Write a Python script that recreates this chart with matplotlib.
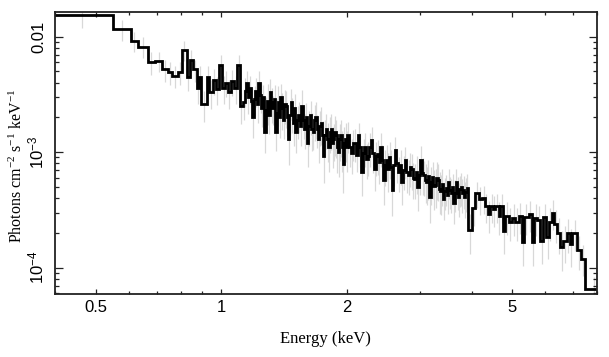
import matplotlib.pyplot as plt
import matplotlib.ticker as mticker
import numpy as np

# unfolded X-ray spectrum
# each band: lower bin edges (keV), flux (photons cm^-2 s^-1 keV^-1), fractional error

soft_edges = [
    0.39, 0.549, 0.607, 0.631, 0.666, 0.693, 0.722, 0.744, 0.760, 0.789,
    0.806, 0.826, 0.841, 0.854, 0.873, 0.884, 0.897, 0.923, 0.937, 0.955,
    0.971, 0.987, 1.007, 1.021, 1.038, 1.056, 1.073, 1.094, 1.110,
]
soft_flux = [
    0.0153, 0.0116, 0.0092, 0.0082, 0.0060, 0.0062, 0.0052, 0.0049, 0.0046, 0.0049,
    0.0077, 0.0045, 0.0063, 0.0052, 0.0036, 0.0045, 0.0026, 0.0045, 0.0033, 0.0042,
    0.0035, 0.0057, 0.0036, 0.0040, 0.0033, 0.0041, 0.0036, 0.0057, 0.0025,
]
soft_err = [
    0.23, 0.21, 0.20, 0.20, 0.22, 0.20, 0.22, 0.22, 0.22, 0.22,
    0.20, 0.25, 0.22, 0.22, 0.28, 0.25, 0.30, 0.25, 0.28, 0.25,
    0.27, 0.22, 0.27, 0.25, 0.28, 0.25, 0.27, 0.22, 0.30,
]

# 1.13 - 1.5 keV
b1_edges = [
    1.128, 1.138, 1.148, 1.158, 1.168, 1.178, 1.188, 1.198, 1.208, 1.218,
    1.228, 1.238, 1.248, 1.258, 1.268, 1.278, 1.288, 1.298, 1.308, 1.318,
    1.328, 1.338, 1.348, 1.358, 1.368, 1.378, 1.388, 1.398, 1.408, 1.418,
    1.428, 1.438, 1.448, 1.458, 1.468, 1.478, 1.488, 1.498,
]
b1_flux = [
    0.0027, 0.0034, 0.0040, 0.0030, 0.0036, 0.0028, 0.0020, 0.0029, 0.0034, 0.0026,
    0.0040, 0.0031, 0.0024, 0.0030, 0.0015, 0.0023, 0.0028, 0.0021, 0.0033, 0.0027,
    0.0024, 0.0029, 0.0015, 0.0022, 0.0027, 0.0020, 0.0030, 0.0024, 0.0019, 0.0026,
    0.0025, 0.0020, 0.0013, 0.0021, 0.0027, 0.0022, 0.0018, 0.0024,
]
b1_err = [
    0.30, 0.28, 0.26, 0.29, 0.27, 0.30, 0.34, 0.29, 0.28, 0.31,
    0.26, 0.29, 0.31, 0.28, 0.35, 0.30, 0.38, 0.32, 0.31, 0.34,
    0.29, 0.31, 0.32, 0.30, 0.38, 0.33, 0.30, 0.35, 0.31, 0.33,
    0.35, 0.31, 0.40, 0.33, 0.30, 0.34, 0.37, 0.32,
]

# 1.5 - 2 keV
b2_edges = [
    1.508, 1.5205, 1.533, 1.5455, 1.558, 1.5705, 1.583, 1.5955, 1.608, 1.6205,
    1.633, 1.6455, 1.658, 1.6705, 1.683, 1.6955, 1.708, 1.7205, 1.733, 1.7455,
    1.758, 1.7705, 1.783, 1.7955, 1.808, 1.8205, 1.833, 1.8455, 1.858, 1.8705,
    1.883, 1.8955, 1.908, 1.9205, 1.933, 1.9455, 1.958, 1.9705, 1.983, 1.9955,
]
b2_flux = [
    0.0015, 0.0019, 0.0021, 0.0017, 0.0025, 0.0019, 0.0016, 0.0020, 0.0012, 0.0017,
    0.0021, 0.0016, 0.0015, 0.0019, 0.0020, 0.0016, 0.0013, 0.0017, 0.0018, 0.0014,
    0.00093, 0.0014, 0.0016, 0.0013, 0.0011, 0.0015, 0.0016, 0.0012, 0.0013, 0.0015,
    0.0014, 0.0011, 0.0010, 0.0013, 0.0014, 0.0011, 0.00079, 0.0012, 0.0013, 0.0011,
]
b2_err = [
    0.35, 0.32, 0.30, 0.33, 0.37, 0.31, 0.34, 0.32, 0.38, 0.33,
    0.33, 0.36, 0.31, 0.34, 0.35, 0.32, 0.38, 0.33, 0.36, 0.34,
    0.42, 0.35, 0.33, 0.37, 0.39, 0.34, 0.35, 0.39, 0.36, 0.38,
    0.36, 0.40, 0.39, 0.36, 0.35, 0.39, 0.44, 0.37, 0.37, 0.39,
]

# 2 - 2.6 keV
b3_edges = [
    2.008, 2.028, 2.048, 2.068, 2.088, 2.108, 2.128, 2.148, 2.168, 2.188,
    2.208, 2.228, 2.248, 2.268, 2.288, 2.308, 2.328, 2.348, 2.368, 2.388,
    2.408, 2.428, 2.448, 2.468, 2.488, 2.508, 2.528, 2.548, 2.568, 2.588,
]
b3_flux = [
    0.0014, 0.0011, 0.00098, 0.0012, 0.0012, 0.00095, 0.0014, 0.0011, 0.00068, 0.00098,
    0.0011, 0.00088, 0.00092, 0.0011, 0.00127, 0.00098, 0.00072, 0.00093, 0.00096, 0.00082,
    0.0011, 0.00086, 0.00057, 0.00078, 0.00086, 0.00072, 0.00091, 0.00075, 0.00047, 0.00078,
]
b3_err = [
    0.30, 0.32, 0.34, 0.30, 0.31, 0.29, 0.28, 0.32, 0.38, 0.33,
    0.32, 0.34, 0.33, 0.32, 0.29, 0.33, 0.36, 0.33, 0.34, 0.35,
    0.32, 0.34, 0.39, 0.35, 0.34, 0.37, 0.35, 0.38, 0.40, 0.35,
]

# 2.6 - 3.4 keV
b4_edges = [
    2.608, 2.633, 2.658, 2.683, 2.708, 2.733, 2.758, 2.783, 2.808, 2.833,
    2.858, 2.883, 2.908, 2.933, 2.958, 2.983, 3.008, 3.033, 3.058, 3.083,
    3.108, 3.133, 3.158, 3.183, 3.208, 3.233, 3.258, 3.283, 3.308, 3.333,
    3.358, 3.383,
]
b4_flux = [
    0.00105, 0.00080, 0.00068, 0.00078, 0.00055, 0.00070, 0.00085, 0.00067, 0.00064, 0.00074,
    0.00072, 0.00060, 0.00059, 0.00068, 0.00050, 0.00064, 0.00086, 0.00066, 0.00063, 0.00058,
    0.00055, 0.00062, 0.00041, 0.00055, 0.00061, 0.00051, 0.00052, 0.00060, 0.00058, 0.00048,
    0.00046, 0.00053,
]
b4_err = [
    0.28, 0.32, 0.34, 0.33, 0.36, 0.33, 0.31, 0.34, 0.33, 0.32,
    0.35, 0.34, 0.33, 0.36, 0.38, 0.34, 0.31, 0.35, 0.34, 0.37,
    0.36, 0.38, 0.40, 0.36, 0.35, 0.38, 0.37, 0.36, 0.35, 0.39,
    0.38, 0.36,
]

# 3.4 - 3.9 keV
b5_edges = [
    3.408, 3.433, 3.458, 3.483, 3.508, 3.533, 3.558, 3.583, 3.608, 3.633,
    3.658, 3.683, 3.708, 3.733, 3.758, 3.783, 3.808, 3.833, 3.858, 3.883,
]
b5_flux = [
    0.00039, 0.00046, 0.00049, 0.00043, 0.00055, 0.00047, 0.00044, 0.00050, 0.00036, 0.00044,
    0.00055, 0.00046, 0.00041, 0.00048, 0.00050, 0.00044, 0.00047, 0.00041, 0.00045, 0.00049,
]
b5_err = [
    0.33, 0.31, 0.30, 0.32, 0.29, 0.31, 0.32, 0.30, 0.34, 0.31,
    0.29, 0.32, 0.33, 0.30, 0.31, 0.33, 0.32, 0.34, 0.33, 0.31,
]

# hard band, wider bins
hard_edges = [
    3.908, 4.000, 4.074, 4.150, 4.228, 4.307, 4.361, 4.427, 4.494, 4.551,
    4.636, 4.680, 4.749, 4.810, 4.899, 4.992, 5.083, 5.177, 5.275, 5.343,
    5.473, 5.577, 5.647, 5.733, 5.840, 5.928, 6.036, 6.114, 6.229, 6.309,
    6.405, 6.523, 6.622, 6.769, 6.867, 6.958, 7.155, 7.316, 7.490,
]
hard_flux = [
    2.1e-4, 3.3e-4, 4.4e-4, 3.9e-4, 4.0e-4, 3.4e-4, 2.9e-4, 3.4e-4, 3.2e-4, 3.4e-4,
    2.8e-4, 3.4e-4, 2.06e-4, 2.8e-4, 2.5e-4, 2.7e-4, 2.5e-4, 2.8e-4, 1.67e-4, 2.75e-4,
    2.9e-4, 1.67e-4, 2.7e-4, 2.6e-4, 1.7e-4, 2.75e-4, 1.85e-4, 2.5e-4, 2.96e-4, 2.4e-4,
    2.0e-4, 1.52e-4, 1.7e-4, 2.0e-4, 1.6e-4, 2.0e-4, 1.42e-4, 1.2e-4, 6.5e-5,
]
hard_err = [
    0.38, 0.30, 0.26, 0.27, 0.27, 0.29, 0.31, 0.29, 0.30, 0.29,
    0.31, 0.29, 0.36, 0.31, 0.32, 0.31, 0.32, 0.30, 0.38, 0.30,
    0.30, 0.38, 0.31, 0.31, 0.37, 0.30, 0.36, 0.32, 0.29, 0.32,
    0.34, 0.38, 0.36, 0.33, 0.36, 0.30, 0.33, 0.30, 0.28,
]
last_edge = 8.2

x_major = [0.5, 1, 2, 5]
x_major_labels = ["0.5", "1", "2", "5"]
x_minor = [0.4, 0.6, 0.7, 0.8, 0.9, 3, 4, 6, 7, 8]
y_major = [1e-4, 1e-3, 1e-2]
y_major_labels = [r"$\mathregular{10^{-4}}$", r"$\mathregular{10^{-3}}$", "0.01"]

edges = np.array(soft_edges + b1_edges + b2_edges + b3_edges + b4_edges
                 + b5_edges + hard_edges + [last_edge])
flux = np.array(soft_flux + b1_flux + b2_flux + b3_flux + b4_flux
                + b5_flux + hard_flux)
rel_err = np.array(soft_err + b1_err + b2_err + b3_err + b4_err
                   + b5_err + hard_err)
centers = np.sqrt(edges[:-1] * edges[1:])

fig = plt.figure(figsize=(6.09, 3.57), dpi=100)
ax = fig.add_axes([0.0895, 0.1765, 0.8913, 0.7899])

ax.vlines(centers, flux * (1 - rel_err), flux * (1 + rel_err),
          color="#d8d8d8", lw=0.9, zorder=1)
ax.stairs(flux, edges, baseline=None, color="black", lw=2.0, zorder=2)

ax.set_xscale("log")
ax.set_yscale("log")
ax.set_xlim(0.398, 8.0)
ax.set_ylim(5.92e-5, 0.01636)

ax.xaxis.set_major_locator(mticker.FixedLocator(x_major))
ax.xaxis.set_major_formatter(mticker.FixedFormatter(x_major_labels))
ax.xaxis.set_minor_locator(mticker.FixedLocator(x_minor))
ax.xaxis.set_minor_formatter(mticker.NullFormatter())
ax.yaxis.set_major_locator(mticker.FixedLocator(y_major))
ax.yaxis.set_major_formatter(mticker.FixedFormatter(y_major_labels))
ax.yaxis.set_minor_locator(mticker.LogLocator(base=10, subs=np.arange(2, 10)))
ax.yaxis.set_minor_formatter(mticker.NullFormatter())

ax.tick_params(which="both", direction="in", top=True, right=True,
               width=0.9, color="#222222")
ax.tick_params(axis="x", which="major", length=3.8, pad=4)
ax.tick_params(axis="x", which="minor", length=2.5)
ax.tick_params(axis="y", which="major", length=5.5, pad=6)
ax.tick_params(axis="y", which="minor", length=3)
for lbl in ax.get_xticklabels() + ax.get_yticklabels():
    lbl.set_fontfamily("Liberation Sans")
    lbl.set_fontsize(12)
plt.setp(ax.get_yticklabels(), rotation=90, va="center")

for sp in ax.spines.values():
    sp.set_linewidth(1.3)
    sp.set_color("#222222")

ax.set_xlabel("Energy (keV)", family="Liberation Serif", fontsize=12, labelpad=12)
ax.set_ylabel(r"Photons cm$\mathregular{^{-2}}$ s$\mathregular{^{-1}}$ keV$\mathregular{^{-1}}$",
              family="Liberation Serif", fontsize=11.5, va="center")
ax.yaxis.set_label_coords(-0.069, 0.455)

fig.savefig("out.png", dpi=100)
